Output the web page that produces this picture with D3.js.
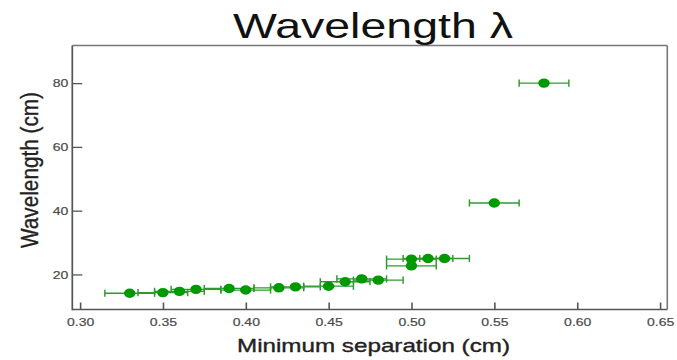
<!DOCTYPE html>
<html>
<head>
<meta charset="utf-8">
<script src="https://cdn.jsdelivr.net/npm/d3@7"></script>
<style>
  html, body { margin: 0; padding: 0; background: #fff; }
  svg { display: block; }
  text { font-family: "Liberation Sans", Arial, sans-serif; }
</style>
</head>
<body>
<script>
// ---- data ----
const separation = [0.33, 0.35, 0.36, 0.37, 0.39, 0.40, 0.42, 0.43, 0.45, 0.46, 0.47, 0.48, 0.50, 0.50, 0.51, 0.52, 0.55, 0.58];
const wavelength = [14.1, 14.3, 14.7, 15.3, 15.6, 15.1, 15.8, 16.1, 16.3, 17.7, 18.6, 18.2, 24.8, 22.7, 25.0, 25.0, 42.4, 80.0];
const sepError   = [0.015, 0.015, 0.015, 0.015, 0.015, 0.015, 0.015, 0.015, 0.015, 0.015, 0.015, 0.015, 0.015, 0.015, 0.015, 0.015, 0.015, 0.015];
const xTicks = [0.30, 0.35, 0.40, 0.45, 0.50, 0.55, 0.60, 0.65];
const yTicks = [20, 40, 60, 80];
const title = "Wavelength λ";
const xTitle = "Minimum separation (cm)";
const yTitle = "Wavelength (cm)";

// ---- layout ----
const W = 677, H = 360;
const sx = 1.22; // the reference is stretched horizontally
const L = 72.3 / sx, R = 667.3 / sx, T = 45.5, B = 309.5;

const svg = d3.select("body").append("svg").attr("width", W).attr("height", H);
const g = svg.append("g").attr("transform", `scale(${sx},1)`);

const x = d3.scaleLinear().domain([0.29535, 0.65442]).range([L, R]);
const y = d3.scaleLinear().domain([9.0, 91.8]).range([B, T]);

const axisColor = "#555";

// x axis (ticks pointing inward)
const xa = g.append("g").attr("transform", `translate(0,${B})`)
  .call(d3.axisBottom(x).tickValues(xTicks).tickFormat(d3.format(".2f")).tickSize(-7).tickPadding(8.5));
xa.select(".domain").remove();
xa.selectAll(".tick line").attr("stroke", axisColor).attr("stroke-width", 1.3);
xa.selectAll(".tick text").attr("fill", "#4a4a4a").style("font-size", "11.5px")
  .style("font-family", "Liberation Sans, Arial, sans-serif").attr("stroke", "#4a4a4a").attr("stroke-width", 0.2);

// y axis (ticks pointing inward)
const ya = g.append("g").attr("transform", `translate(${L},0)`)
  .call(d3.axisLeft(y).tickValues(yTicks).tickSize(-10 / sx).tickPadding(4 / sx));
ya.select(".domain").remove();
ya.selectAll(".tick line").attr("stroke", axisColor).attr("stroke-width", 1.3);
ya.selectAll(".tick text").attr("fill", "#4a4a4a").style("font-size", "11.5px")
  .style("font-family", "Liberation Sans, Arial, sans-serif").attr("stroke", "#4a4a4a").attr("stroke-width", 0.2);

// frame
g.append("line").attr("x1", L).attr("x2", L).attr("y1", T).attr("y2", B + 0.7).attr("stroke", axisColor).attr("stroke-width", 1.4);
g.append("line").attr("x1", L).attr("x2", R).attr("y1", B).attr("y2", B).attr("stroke", axisColor).attr("stroke-width", 1.4);
g.append("line").attr("x1", L).attr("x2", R).attr("y1", T).attr("y2", T).attr("stroke", "#777").attr("stroke-width", 1.3);
g.append("line").attr("x1", R).attr("x2", R).attr("y1", T).attr("y2", B).attr("stroke", "#777").attr("stroke-width", 1.3);

// data
const pts = separation.map((s, i) => ({ s, w: wavelength[i], e: sepError[i] }));
const barColor = "#2e9a2e";
const eb = g.append("g");
pts.forEach(d => {
  const yy = y(d.w);
  eb.append("line").attr("x1", x(d.s - d.e)).attr("x2", x(d.s + d.e)).attr("y1", yy).attr("y2", yy)
    .attr("stroke", barColor).attr("stroke-width", 1.3);
  [d.s - d.e, d.s + d.e].forEach(v => {
    eb.append("line").attr("x1", x(v)).attr("x2", x(v)).attr("y1", yy - 3.6).attr("y2", yy + 3.6)
      .attr("stroke", barColor).attr("stroke-width", 1.2);
  });
});
g.append("g").selectAll("circle").data(pts).join("circle")
  .attr("cx", d => x(d.s)).attr("cy", d => y(d.w)).attr("r", 4.7)
  .attr("fill", "#009a00");

// titles
g.append("text").attr("x", 373 / sx).attr("y", 38).attr("text-anchor", "middle")
  .attr("textLength", 280 / sx).attr("lengthAdjust", "spacingAndGlyphs")
  .style("font-size", "36px").attr("fill", "#111").text(title);

g.append("text").attr("x", 373.5 / sx).attr("y", 352.5).attr("text-anchor", "middle")
  .attr("textLength", 273 / sx).attr("lengthAdjust", "spacingAndGlyphs")
  .style("font-size", "18px").attr("fill", "#222").attr("stroke", "#222").attr("stroke-width", 0.35).text(xTitle);

g.append("text").attr("transform", `translate(${37.5 / sx},170) rotate(-90)`).attr("text-anchor", "middle")
  .attr("textLength", 156).attr("lengthAdjust", "spacingAndGlyphs")
  .style("font-size", "19px").attr("fill", "#222").attr("stroke", "#222").attr("stroke-width", 0.3).text(yTitle);
</script>
</body>
</html>
